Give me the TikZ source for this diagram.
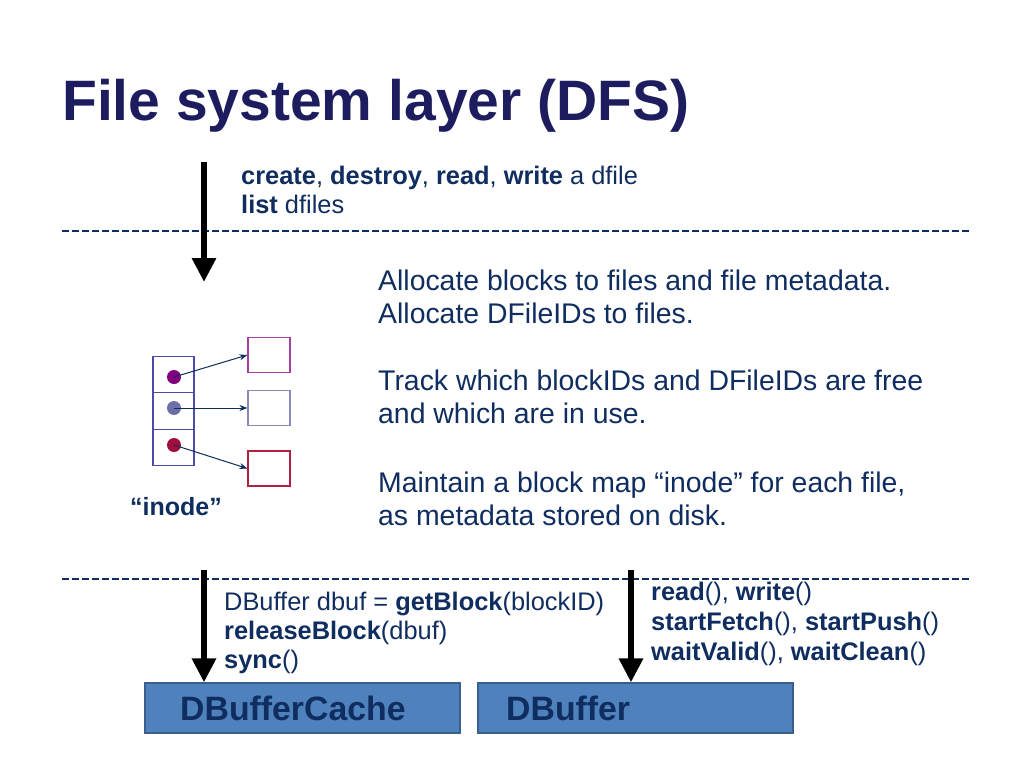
\documentclass[tikz,border=0pt]{standalone}
\usepackage{fontspec}
\setmainfont{Liberation Sans}
\usetikzlibrary{arrows.meta}
\definecolor{titlec}{HTML}{1C1C5E}
\definecolor{txt}{HTML}{0F2D5F}
\definecolor{cellc}{HTML}{4B4BAA}
\definecolor{dotA}{HTML}{800080}
\definecolor{dotB}{HTML}{6F6FA8}
\definecolor{dotC}{HTML}{A0103A}
\definecolor{boxA}{HTML}{A040A0}
\definecolor{boxB}{HTML}{8A8AB8}
\definecolor{boxC}{HTML}{B02040}
\definecolor{layfill}{HTML}{4F81BD}
\definecolor{layline}{HTML}{3A5F8F}
\newcommand{\fs}[1]{\fontsize{#1}{#1}\selectfont}
\begin{document}
\begin{tikzpicture}[x=1pt,y=-1pt,
  lbl/.style={anchor=base west,inner sep=0pt,text=txt},
  small/.style={lbl,font=\fs{25.4}},
  big/.style={lbl,font=\fs{28.4}},
  sep/.style={draw=txt,line width=2pt,dash pattern=on 6.5pt off 3.5pt},
  bigarrow/.style={draw=black,line width=6pt,-{Triangle[width=23pt,length=24pt]}},
  cell/.style={draw=cellc,line width=1.2pt,minimum width=41pt,minimum height=36.5pt,inner sep=0pt},
  blk/.style={line width=1.2pt,minimum width=42pt,minimum height=35pt,inner sep=0pt,fill=white},
  dotn/.style={circle,inner sep=0pt,minimum size=14pt},
  ptr/.style={draw=txt,line width=1pt,-{Stealth[length=8pt,width=6pt]}},
  layer/.style={draw=layline,line width=1.2pt,fill=layfill,minimum width=315pt,minimum height=50pt,inner sep=0pt}
]
\useasboundingbox (0,0) rectangle (1024,768);
\fill[white] (0,0) rectangle (1024,768);

% title
\node[lbl,text=titlec,font=\bfseries\fs{57}] (title) at (62,120) {File system layer (DFS)};

% separators
\coordinate (s1a) at (62,231); \coordinate (s1b) at (972,231);
\coordinate (s2a) at (62,579); \coordinate (s2b) at (972,579);
\draw[sep] (s1a) -- (s1b);
\draw[sep] (s2a) -- (s2b);

% top arrow and text
\coordinate (a1s) at (204,162); \coordinate (a1e) at (204,282);
\draw[bigarrow] (a1s) -- (a1e);
\node[small] (t1) at (241,184) {\textbf{create}, \textbf{destroy}, \textbf{read}, \textbf{write} a dfile};
\node[small] (t2) at (241,213) {\textbf{list} dfiles};

% right description
\node[big] (d1) at (378,290) {Allocate blocks to files and file metadata.};
\node[big] (d2) at (378,323) {Allocate DFileIDs to files.};
\node[big] (d3) at (378,390) {Track which blockIDs and DFileIDs are free};
\node[big] (d4) at (378,423) {and which are in use.};
\node[big] (d5) at (378,492) {Maintain a block map “inode” for each file,};
\node[big] (d6) at (378,525) {as metadata stored on disk.};

% inode
\node[cell] (c1) at (173.5,374.5) {};
\node[cell] (c2) at (173.5,411) {};
\node[cell] (c3) at (173.5,447.5) {};
\node[dotn,fill=dotA] (p1) at (174,377) {};
\node[dotn,fill=dotB] (p2) at (174,408) {};
\node[dotn,fill=dotC] (p3) at (174,445) {};
\node[blk,draw=boxA] (b1) at (269,355) {};
\node[blk,draw=boxB] (b2) at (269,408) {};
\node[blk,draw=boxC] (b3) at (269,468.5) {};
\draw[ptr] (p1.center) -- (b1.west);
\draw[ptr] (p2.center) -- (b2.west);
\draw[ptr] (p3.center) -- (b3.west);
\node[lbl,font=\bfseries\fs{25}] (inode) at (130,515) {“inode”};

% bottom layers
\node[layer] (cache) at (302.5,708) {};
\node[layer] (dbuf) at (635.5,708) {};
\node[lbl,font=\bfseries\fs{33.8}] (cachet) at (180,720) {DBufferCache};
\node[lbl,font=\bfseries\fs{33.8}] (dbuft) at (506,720) {DBuffer};

% bottom arrows
\coordinate (a2s) at (204,570);
\coordinate (a3s) at (631,570);
\draw[bigarrow] (a2s) -- (a2s |- cache.north);
\draw[bigarrow] (a3s) -- (a3s |- dbuf.north);

% bottom texts
\node[small] (l1) at (224,610) {DBuffer dbuf = \textbf{getBlock}(blockID)};
\node[small] (l2) at (224,639) {\textbf{releaseBlock}(dbuf)};
\node[small] (l3) at (224,668) {\textbf{sync}()};
\node[small] (r1) at (651,600) {\textbf{read}(), \textbf{write}()};
\node[small] (r2) at (651,630) {\textbf{startFetch}(), \textbf{startPush}()};
\node[small] (r3) at (651,660) {\textbf{waitValid}(), \textbf{waitClean}()};
\end{tikzpicture}
\end{document}
